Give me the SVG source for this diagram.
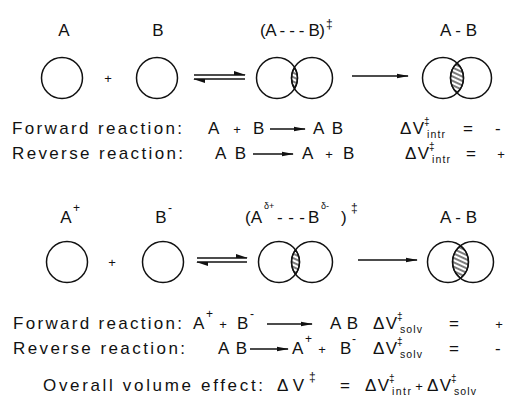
<svg xmlns="http://www.w3.org/2000/svg" width="515" height="412" viewBox="0 0 515 412">
<style>
text{font-family:"Liberation Sans","DejaVu Sans",sans-serif;fill:#111;font-size:17px}
.sub{font-size:10.5px}
.sup{font-size:12px}
.dg{font-size:10px}
.tiny{font-size:9px}
.c{fill:none;stroke:#111;stroke-width:1.5}
.lens{fill:url(#hatch);stroke:#111;stroke-width:1.3}
.arr{fill:none;stroke:#111;stroke-width:1.5}
.mid{text-anchor:middle}
</style>
<defs>
<pattern id="hatch" width="4" height="4" patternUnits="userSpaceOnUse" patternTransform="rotate(25)">
<rect width="4" height="4" fill="#fff"/>
<line x1="0" y1="2" x2="4" y2="2" stroke="#111" stroke-width="1.1"/>
</pattern>
<marker id="ah" viewBox="0 0 12 6" refX="11" refY="3" markerWidth="12" markerHeight="6" markerUnits="userSpaceOnUse" orient="auto">
<path d="M0,0.8 L12,3 L0,5.2 z" fill="#111"/>
</marker>
<marker id="hp" viewBox="0 0 12 5" refX="11" refY="5" markerWidth="12" markerHeight="5" markerUnits="userSpaceOnUse" orient="auto">
<path d="M0,1 L12,5 L0,5 z" fill="#111"/>
</marker>
</defs>

<!-- Row 1 nodes -->
<g id="row1-A">
<text class="mid" x="64" y="36">A</text>
<circle class="c" cx="62" cy="78" r="20.5"/>
</g>
<text class="mid" x="108" y="83" style="font-size:13px">+</text>
<g id="row1-B">
<text class="mid" x="158" y="36">B</text>
<circle class="c" cx="157" cy="78" r="20.5"/>
</g>
<g id="row1-TS">
<text x="260" y="36" textLength="65" lengthAdjust="spacing">(A - - - B)</text>
<text class="sup" x="326" y="28">‡</text>
<path class="lens" d="M294.5,67.3 A20.5,20.5 0 0 1 294.5,88.7 A20.5,20.5 0 0 1 294.5,67.3 Z"/>
<circle class="c" cx="277" cy="78" r="20.5"/>
<circle class="c" cx="312" cy="78" r="20.5"/>
</g>
<g id="row1-AB">
<text x="440" y="36" textLength="37" lengthAdjust="spacing">A - B</text>
<path class="lens" d="M457,63 A20.5,20.5 0 0 1 457,93 A20.5,20.5 0 0 1 457,63 Z"/>
<circle class="c" cx="443" cy="78" r="20.5"/>
<circle class="c" cx="471" cy="78" r="20.5"/>
</g>

<!-- Row 2 nodes -->
<g id="row2-A">
<text class="mid" x="66" y="223">A</text>
<text class="sup" x="73" y="212">+</text>
<circle class="c" cx="67" cy="262" r="20.5"/>
</g>
<text class="mid" x="112" y="267" style="font-size:13px">+</text>
<g id="row2-B">
<text class="mid" x="161" y="223">B</text>
<text class="sup" x="168" y="212">-</text>
<circle class="c" cx="163" cy="262" r="20.5"/>
</g>
<g id="row2-TS">
<text x="245" y="223">(A</text>
<text class="tiny" x="264" y="209">δ+</text>
<text x="277" y="223" textLength="28" lengthAdjust="spacing">- - -</text>
<text x="308" y="223">B</text>
<text class="tiny" x="321" y="209">δ-</text>
<text x="341" y="223">)</text>
<text class="sup" x="351" y="212">‡</text>
<path class="lens" d="M295.5,249.8 A20.5,20.5 0 0 1 295.5,274.2 A20.5,20.5 0 0 1 295.5,249.8 Z"/>
<circle class="c" cx="279" cy="262" r="20.5"/>
<circle class="c" cx="312" cy="262" r="20.5"/>
</g>
<g id="row2-AB">
<text x="440" y="223" textLength="37" lengthAdjust="spacing">A - B</text>
<path class="lens" d="M460.5,245.8 A20.5,20.5 0 0 1 460.5,278.2 A20.5,20.5 0 0 1 460.5,245.8 Z"/>
<circle class="c" cx="448" cy="262" r="20.5"/>
<circle class="c" cx="473" cy="262" r="20.5"/>
</g>

<!-- Connectors -->
<g id="connectors">
<path class="arr" d="M194,75 H245" marker-end="url(#hp)"/>
<path class="arr" d="M245,79 H194" marker-end="url(#hp)"/>
<path class="arr" d="M352,76 H408" marker-end="url(#ah)"/>
<path class="arr" d="M197,258 H247" marker-end="url(#hp)"/>
<path class="arr" d="M247,262 H197" marker-end="url(#hp)"/>
<path class="arr" d="M358,260 H417" marker-end="url(#ah)"/>
<path class="arr" d="M270,129 H305" marker-end="url(#ah)"/>
<path class="arr" d="M253,154 H293" marker-end="url(#ah)"/>
<path class="arr" d="M267,324 H312" marker-end="url(#ah)"/>
<path class="arr" d="M250,349 H288" marker-end="url(#ah)"/>
</g>

<!-- Equations group 1 -->
<g id="eq1">
<text x="12" y="134" textLength="170" lengthAdjust="spacing">Forward reaction:</text>
<text x="208" y="134">A</text>
<text class="mid" x="237" y="134" style="font-size:13px">+</text>
<text x="253" y="134">B</text>
<text x="313" y="134" textLength="30" lengthAdjust="spacing">AB</text>
<text x="400" y="134" textLength="24" lengthAdjust="spacing">ΔV</text>
<text class="dg" x="424" y="125">‡</text>
<text class="sub" x="427" y="138" textLength="18" lengthAdjust="spacing">intr</text>
<text x="463" y="134">=</text>
<text x="495" y="134">-</text>

<text x="12" y="159" textLength="171" lengthAdjust="spacing">Reverse reaction:</text>
<text x="215" y="159" textLength="31" lengthAdjust="spacing">AB</text>
<text x="302" y="159">A</text>
<text class="mid" x="329" y="159" style="font-size:13px">+</text>
<text x="343" y="159">B</text>
<text x="405" y="159" textLength="24" lengthAdjust="spacing">ΔV</text>
<text class="dg" x="429" y="150">‡</text>
<text class="sub" x="432" y="163" textLength="18" lengthAdjust="spacing">intr</text>
<text x="466" y="159">=</text>
<text class="mid" x="501" y="159" style="font-size:13px">+</text>
</g>

<!-- Equations group 2 -->
<g id="eq2">
<text x="13" y="329" textLength="169" lengthAdjust="spacing">Forward reaction:</text>
<text x="193" y="329">A</text>
<text class="sup" x="206" y="318">+</text>
<text class="mid" x="223" y="329" style="font-size:13px">+</text>
<text x="237" y="329">B</text>
<text class="sup" x="250" y="318">-</text>
<text x="330" y="329" textLength="28" lengthAdjust="spacing">AB</text>
<text x="373" y="329" textLength="24" lengthAdjust="spacing">ΔV</text>
<text class="dg" x="397" y="320">‡</text>
<text class="sub" x="400" y="333" textLength="22" lengthAdjust="spacing">solv</text>
<text x="449" y="329">=</text>
<text class="mid" x="499" y="329" style="font-size:13px">+</text>

<text x="13" y="354" textLength="172" lengthAdjust="spacing">Reverse reaction:</text>
<text x="218" y="354" textLength="29" lengthAdjust="spacing">AB</text>
<text x="292" y="354">A</text>
<text class="sup" x="305" y="343">+</text>
<text class="mid" x="322" y="354" style="font-size:13px">+</text>
<text x="340" y="354">B</text>
<text class="sup" x="352" y="343">-</text>
<text x="373" y="354" textLength="24" lengthAdjust="spacing">ΔV</text>
<text class="dg" x="397" y="345">‡</text>
<text class="sub" x="400" y="358" textLength="22" lengthAdjust="spacing">solv</text>
<text x="449" y="354">=</text>
<text x="495" y="354">-</text>
</g>

<g id="overall">
<text x="43" y="391" textLength="220" lengthAdjust="spacing">Overall volume effect:</text>
<text x="277" y="391" textLength="27" lengthAdjust="spacing">ΔV</text>
<text class="sup" x="309" y="381">‡</text>
<text x="340" y="391">=</text>
<text x="365" y="391" textLength="24" lengthAdjust="spacing">ΔV</text>
<text class="dg" x="389" y="382">‡</text>
<text class="sub" x="392" y="395" textLength="19" lengthAdjust="spacing">intr</text>
<text class="mid" x="419" y="391" style="font-size:13px">+</text>
<text x="427" y="391" textLength="24" lengthAdjust="spacing">ΔV</text>
<text class="dg" x="451" y="382">‡</text>
<text class="sub" x="454" y="395" textLength="22" lengthAdjust="spacing">solv</text>
</g>
</svg>
